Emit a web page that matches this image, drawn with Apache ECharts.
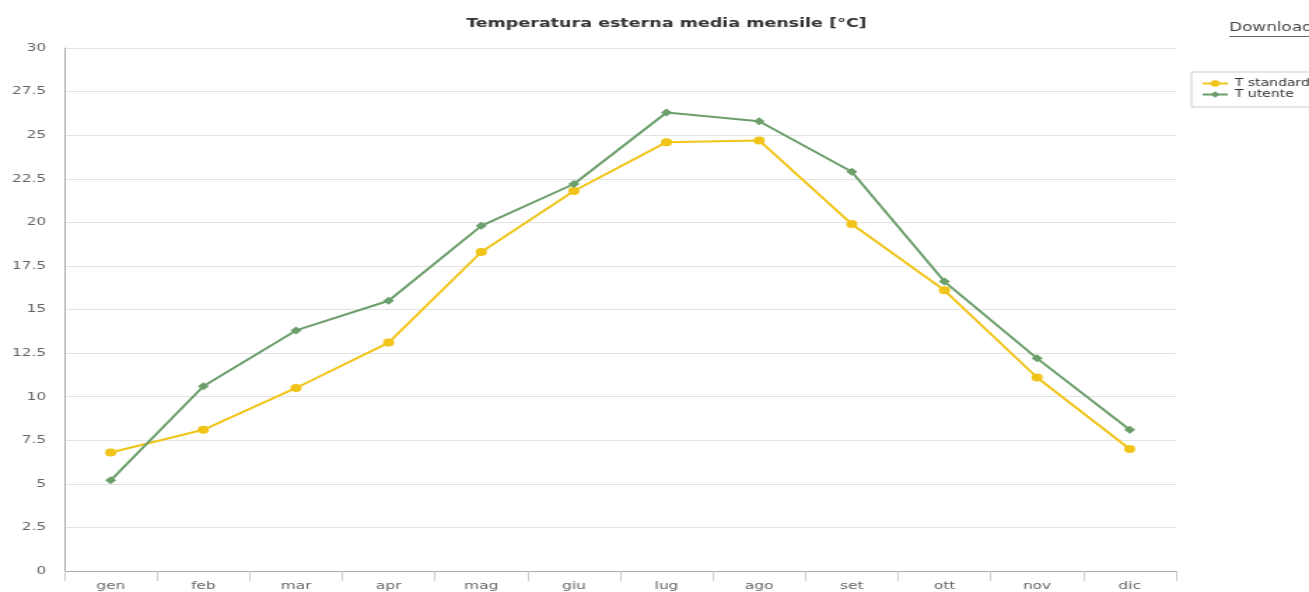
<!DOCTYPE html>
<html>
<head>
<meta charset="utf-8">
<script src="https://cdn.jsdelivr.net/npm/echarts@6/dist/echarts.min.js"></script>
<style>
  html, body { margin: 0; padding: 0; background: #fff; overflow: hidden; }
  /* the reference picture is stretched sideways, so the chart is drawn narrower and widened */
  #chart { width: 935px; height: 592px; transform: scaleX(1.4); transform-origin: 0 0; }
</style>
</head>
<body>
<div id="chart"></div>
<script>
// mesi
var months = ["gen", "feb", "mar", "apr", "mag", "giu", "lug", "ago", "set", "ott", "nov", "dic"];
// temperature
var tStandard = [6.8, 8.1, 10.5, 13.1, 18.3, 21.8, 24.6, 24.7, 19.9, 16.1, 11.1, 7.0];
var tUtente = [5.2, 10.6, 13.8, 15.5, 19.8, 22.2, 26.3, 25.8, 22.9, 16.6, 12.2, 8.1];
var yTicks = ["0", "2.5", "5", "7.5", "10", "12.5", "15", "17.5", "20", "22.5", "25", "27.5", "30"];

var font = "DejaVu Sans";
var chart = echarts.init(document.getElementById("chart"), null, { renderer: "canvas" });

chart.setOption({
  animation: false,
  title: {
    text: "Temperatura esterna media mensile [°C]",
    left: 471,
    top: 12,
    textAlign: "center",
    textStyle: { fontFamily: font, fontSize: 12.5, fontWeight: "bold", color: "#333" }
  },
  graphic: [
    {
      type: "text",
      left: 878,
      top: 22,
      style: { text: "Download", fontFamily: font, fontSize: 12, fill: "#444" }
    },
    {
      type: "rect",
      left: 878,
      top: 36,
      shape: { width: 70, height: 1 },
      style: { fill: "#666" }
    }
  ],
  legend: {
    data: ["T standard", "T utente"],
    orient: "vertical",
    left: 851,
    top: 72,
    padding: [6, 10, 7, 7],
    itemGap: 0,
    itemWidth: 18,
    itemHeight: 8,
    borderColor: "#ccc",
    borderWidth: 1,
    textStyle: { fontFamily: font, fontSize: 10, lineHeight: 11, color: "#333" }
  },
  grid: { left: 46, right: 95, top: 48, bottom: 20 },
  xAxis: {
    type: "category",
    data: months,
    boundaryGap: true,
    axisLine: { lineStyle: { color: "#aaa" } },
    axisTick: { show: true, length: 10, lineStyle: { color: "#ccc" } },
    axisLabel: { fontFamily: font, fontSize: 11, color: "#666", margin: 10 }
  },
  yAxis: {
    type: "value",
    min: 0,
    max: 30,
    interval: 2.5,
    axisLine: { show: true, lineStyle: { color: "#aaa" } },
    axisTick: { show: false },
    axisLabel: {
      fontFamily: font, fontSize: 11, color: "#666", margin: 13,
      formatter: function (v) { return yTicks[Math.round(v / 2.5)]; }
    },
    splitLine: { lineStyle: { color: "#e3e3e3" } }
  },
  series: [
    {
      name: "T standard",
      type: "line",
      data: tStandard,
      symbol: "circle",
      symbolSize: 8,
      lineStyle: { width: 2, color: "#f0c419" },
      itemStyle: { color: "#f0c419" }
    },
    {
      name: "T utente",
      type: "line",
      data: tUtente,
      symbol: "diamond",
      symbolSize: 8,
      lineStyle: { width: 2, color: "#6b9e6b" },
      itemStyle: { color: "#6b9e6b" }
    }
  ]
});
</script>
</body>
</html>
